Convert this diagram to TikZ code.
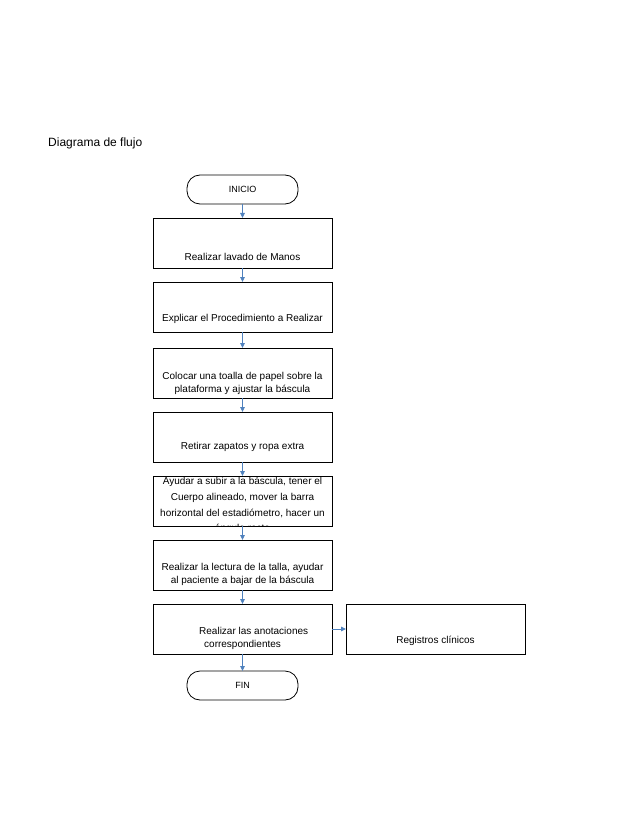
\documentclass[tikz,border=0pt]{standalone}
\usepackage{fontspec}
\setmainfont{Liberation Sans}
\usepackage{tikz}
\usetikzlibrary{
    arrows.meta,
    positioning
}
\definecolor{flowBlue}{RGB}{79,129,189}
\tikzset{
  paso/.style   = {draw, line width=0.8pt, minimum width=179pt,
                   minimum height=50pt, inner sep=0pt, outer sep=0pt},
  term/.style   = {draw, line width=0.8pt, rounded corners=13pt,
                   minimum width=111pt, minimum height=29pt, outer sep=0pt,
                   font=\fontsize{9}{11}\selectfont},
  txt/.style    = {inner sep=0pt, align=center,
                   font=\fontsize{10}{13}\selectfont},
  arr/.style    = {-{Triangle[length=5pt,width=4.5pt]}, line width=0.9pt, flowBlue}
}

\begin{document}
\begin{tikzpicture}[x=1pt,y=-1pt,node distance=14pt]
\useasboundingbox (0,0) rectangle (638,826);
\node[anchor=base west,inner sep=0pt,font=\fontsize{12}{14}\selectfont] (titulo) at (48,147) {Diagrama de flujo};
\node[term] (ini) at (242.5,189.5) {INICIO};
\node[paso,below=of ini] (b1) {};
\node[paso,below=of b1] (b2) {};
\node[paso,below=16pt of b2] (b3) {};
\node[paso,below=of b3] (b4) {};
\node[paso,below=of b4] (b5) {};
\node[paso,below=of b5] (b6) {};
\node[paso,below=of b6] (b7) {};
\node[paso,right=of b7] (reg) {};
\node[term,below=17pt of b7] (fin) {FIN};
% textos
\node[txt,anchor=south] (t1) at ([yshift=7pt]b1.south) {Realizar lavado de Manos};
\node[txt,anchor=south] (t2) at ([yshift=8pt]b2.south) {Explicar el Procedimiento a Realizar};
\node[txt,anchor=south] (t3) at ([yshift=3pt]b3.south) {Colocar una toalla de papel sobre la\\plataforma y ajustar la báscula};
\node[txt,anchor=south] (t4) at ([yshift=10pt]b4.south) {Retirar zapatos y ropa extra};
\begin{scope}
\clip (b5.south west) rectangle (b5.north east);
\node[txt,anchor=north] (t5) at ([yshift=-1pt]b5.north) {Ayudar a subir a la báscula, tener el\\[3pt]Cuerpo alineado, mover la barra\\[3pt]horizontal del estadiómetro, hacer un\\[2pt]ángulo recto};
\end{scope}
\node[txt,anchor=south] (t6) at ([yshift=4pt]b6.south) {Realizar la lectura de la talla, ayudar\\al paciente a bajar de la báscula};
\node[txt,anchor=south west,align=left] (t7) at ([xshift=46pt,yshift=4pt]b7.south west) {Realizar las anotaciones\\\hspace{5pt}correspondientes};
\node[txt,anchor=south] (treg) at ([yshift=8pt]reg.south) {Registros clínicos};
% flechas
\draw[arr] (ini) -- (b1);
\draw[arr] (b1) -- (b2);
\draw[arr] (b2) -- (b3);
\draw[arr] (b3) -- (b4);
\draw[arr] (b4) -- (b5);
\draw[arr] (b5) -- (b6);
\draw[arr] (b6) -- (b7);
\draw[arr] (b7) -- (reg);
\draw[arr] (b7) -- (fin);
\end{tikzpicture}
\end{document}
